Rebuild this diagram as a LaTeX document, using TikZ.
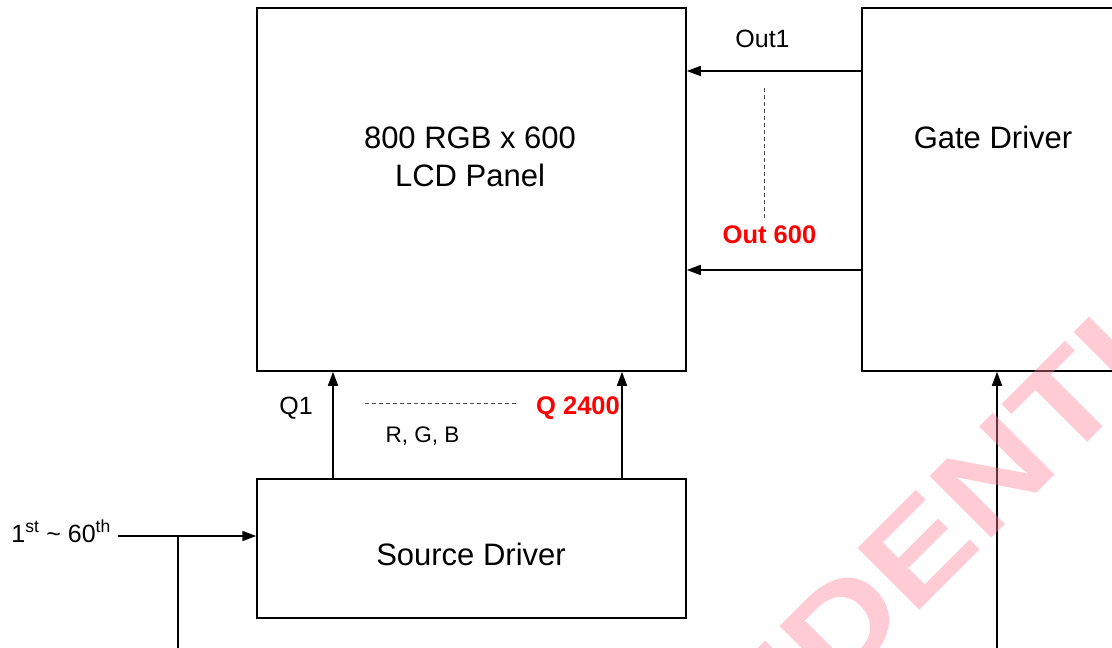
\documentclass[tikz,border=0pt]{standalone}
\usepackage{fontspec}
\setmainfont{Liberation Sans}
\usetikzlibrary{arrows.meta}
\definecolor{wm}{RGB}{255,125,150}
\definecolor{pure red}{RGB}{255,0,0}
\begin{document}
\begin{tikzpicture}[x=1pt,y=-1pt,
 box/.style={draw=black,line width=1.5pt,inner sep=0},
 arr/.style={line width=1.5pt,-{Triangle[length=14pt,width=10pt]}},
 dsh/.style={line width=1pt,draw=black!70,dash pattern=on 4pt off 3pt},
 big/.style={font=\fontsize{31}{38}\selectfont,inner sep=0,anchor=base},
 lbl/.style={font=\fontsize{25}{30}\selectfont,inner sep=0,anchor=base},
 small lbl/.style={font=\fontsize{22.5}{27}\selectfont,inner sep=0,anchor=base},
 red lbl/.style={font=\fontsize{25.5}{30}\selectfont\bfseries,text=pure red,inner sep=0,anchor=base},
]
\useasboundingbox (0,0) rectangle (1112,648);
\clip (0,0) rectangle (1112,648);
% boxes
\node[box,minimum width=429pt,minimum height=363pt] (lcd) at (471.5,189.5) {};
\node[box,minimum width=288pt,minimum height=363pt] (gate) at (1006,189.5) {};
\node[box,minimum width=429pt,minimum height=139pt] (src) at (471.5,548.5) {};
% box texts
\node[big] (t1) at (470,148) {800 RGB x 600};
\node[big] (t2) at (470,186) {LCD Panel};
\node[big] (t3) at (993,148) {Gate Driver};
\node[big] (t4) at (471,565) {Source Driver};
% gate outputs
\draw[arr] (gate.west |- 0,71) -- (lcd.east |- 0,71);
\draw[arr] (gate.west |- 0,270) -- (lcd.east |- 0,270);
\coordinate (gv1) at (764,88);
\coordinate (gv2) at (764,220);
\draw[dsh] (gv1) -- (gv2);
\node[lbl] (out1) at (762.5,47) {Out1};
\node[red lbl] (out600) at (769.5,243) {Out 600};
% source outputs
\draw[arr] (src.north -| 333,0) -- (lcd.south -| 333,0);
\draw[arr] (src.north -| 622,0) -- (lcd.south -| 622,0);
\coordinate (sh1) at (365,403);
\coordinate (sh2) at (518,403);
\draw[dsh] (sh1) -- (sh2);
\node[lbl] (q1) at (296,414) {Q1};
\node[small lbl] (rgb) at (422.5,442) {R, G, B};
\node[red lbl] (q2400) at (578,414) {Q 2400};
% input
\coordinate (inL) at (118,536);
\coordinate (jn) at (178,536);
\coordinate (jb) at (178,660);
\draw[arr] (inL) -- (src.west |- inL);
\draw[line width=1.5pt] (jn) -- (jb);
\node[lbl,anchor=base east] (inlbl) at (111,542) {1\textsuperscript{st} \textasciitilde{} 60\textsuperscript{th}};
% gate input
\coordinate (gb) at (997,660);
\draw[arr] (gb) -- (gate.south -| gb);
% watermark (on top, translucent)
\node[rotate=45,anchor=base west,inner sep=0,text=wm,text opacity=0.4,font=\fontsize{127}{130}\selectfont\bfseries] (wmark) at (499.3,1030.7) {\scalebox{1.2}[1]{CONFIDENTIAL}};
\end{tikzpicture}
\end{document}
